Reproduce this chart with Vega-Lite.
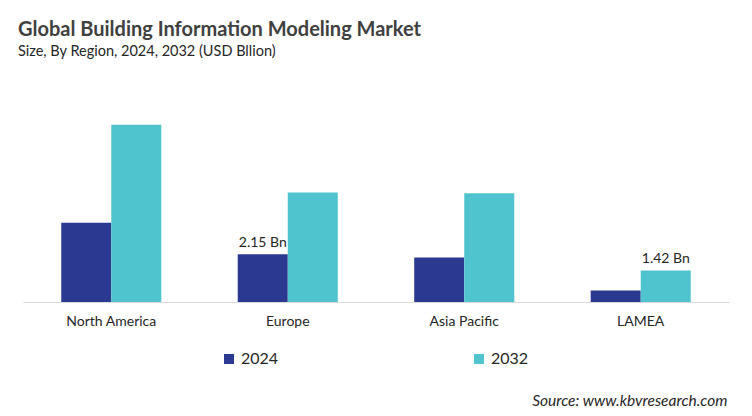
{
  "$schema": "https://vega.github.io/schema/vega-lite/v6.json",
  "autosize": {"type": "none"},
  "width": 706,
  "height": 200,
  "padding": {"left": 23, "top": 102, "right": 23, "bottom": 114},
  "background": "white",
  "title": {
    "text": "Global Building Information Modeling Market",
    "subtitle": "Size, By Region, 2024, 2032 (USD Bllion)",
    "anchor": "start",
    "frame": "group",
    "dx": -5,
    "offset": 44,
    "font": "Lato",
    "fontSize": 20,
    "fontWeight": "bold",
    "color": "#404040",
    "subtitleFont": "Lato",
    "subtitleFontSize": 14.5,
    "subtitleColor": "#262626",
    "subtitlePadding": 5
  },
  "data": {
    "values": [
      {"Region": "North America", "Year": "2024", "Value": 3.57, "label": null},
      {"Region": "North America", "Year": "2032", "Value": 7.98, "label": null},
      {"Region": "Europe", "Year": "2024", "Value": 2.15, "label": "2.15 Bn"},
      {"Region": "Europe", "Year": "2032", "Value": 4.93, "label": null},
      {"Region": "Asia Pacific", "Year": "2024", "Value": 2.0, "label": null},
      {"Region": "Asia Pacific", "Year": "2032", "Value": 4.89, "label": null},
      {"Region": "LAMEA", "Year": "2024", "Value": 0.52, "label": null},
      {"Region": "LAMEA", "Year": "2032", "Value": 1.42, "label": "1.42 Bn"}
    ]
  },
  "encoding": {
    "x": {
      "field": "Region",
      "type": "nominal",
      "sort": ["North America", "Europe", "Asia Pacific", "LAMEA"],
      "scale": {"paddingInner": 0.433, "paddingOuter": 0.2167},
      "axis": {
        "title": "Source: www.kbvresearch.com",
        "titleFont": "Lato",
        "titleFontSize": 15.5,
        "titleFontStyle": "italic",
        "titleFontWeight": "normal",
        "titleColor": "#262626",
        "titleAnchor": "end",
        "titleAlign": "right",
        "titleBaseline": "alphabetic",
        "titleX": 704,
        "titleY": 103,
        "labelAngle": 0,
        "labelFont": "Lato",
        "labelFontSize": 14,
        "labelColor": "#262626",
        "labelPadding": 12,
        "ticks": false,
        "domainColor": "#d9d9d9",
        "domainWidth": 1
      }
    },
    "xOffset": {"field": "Year", "type": "nominal", "scale": {"paddingInner": 0, "paddingOuter": 0}},
    "y": {
      "field": "Value",
      "type": "quantitative",
      "scale": {"domain": [0, 9], "nice": false},
      "axis": null
    }
  },
  "layer": [
    {
      "mark": {"type": "bar"},
      "encoding": {
        "color": {
          "field": "Year",
          "type": "nominal",
          "scale": {"domain": ["2024", "2032"], "range": ["#2b3990", "#4fc4cf"]},
          "legend": {
            "title": null,
            "orient": "none",
            "direction": "horizontal",
            "legendX": 198,
            "legendY": 249,
            "padding": 0,
            "symbolType": "square",
            "symbolSize": 100,
            "symbolStrokeWidth": 0,
            "labelFont": "Lato",
            "labelFontSize": 16,
            "labelColor": "#262626",
            "labelOffset": 4,
            "columnPadding": 192
          }
        }
      }
    },
    {
      "transform": [{"filter": "datum.label != null"}],
      "mark": {"type": "text", "baseline": "bottom", "dy": -4, "font": "Lato", "fontSize": 14, "color": "#262626"},
      "encoding": {"text": {"field": "label"}}
    }
  ],
  "config": {"view": {"stroke": null}}
}
